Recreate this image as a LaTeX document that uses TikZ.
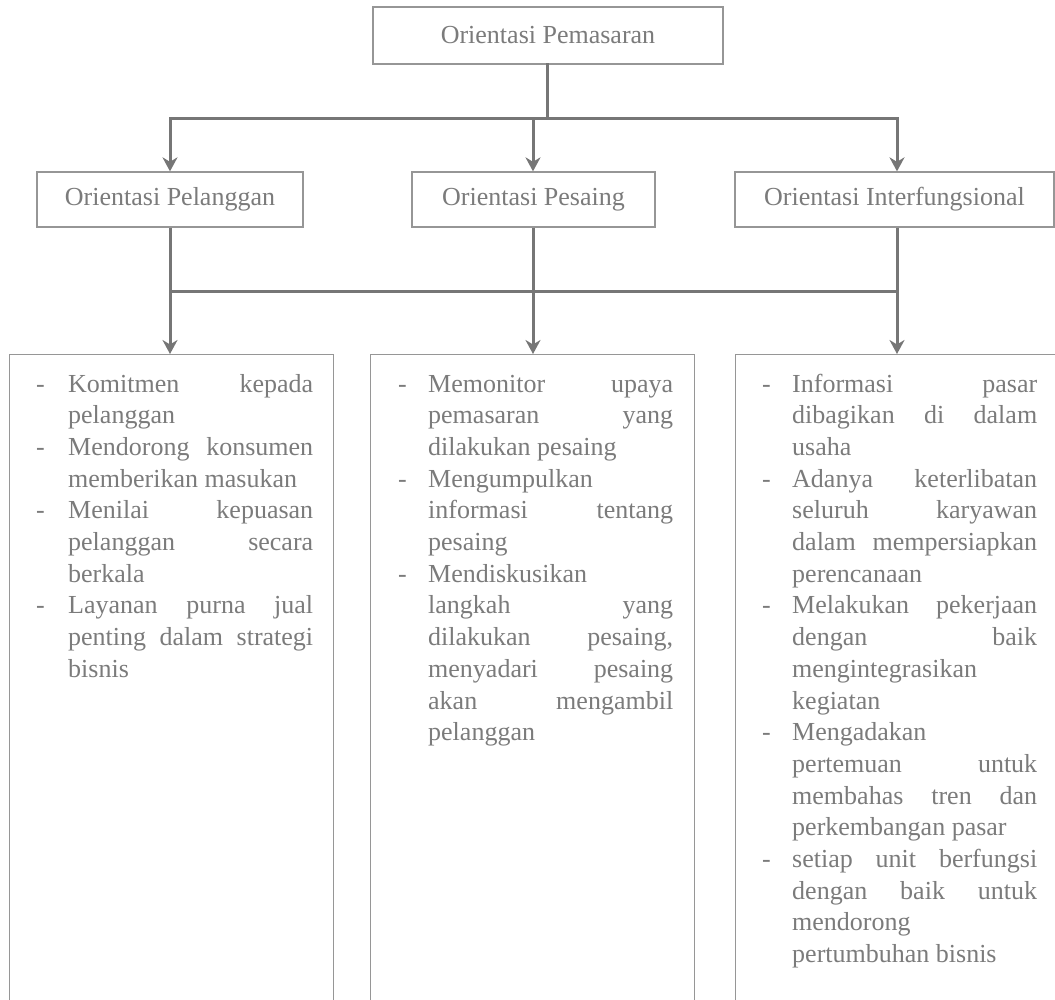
\documentclass[tikz,border=0pt]{standalone}
\usepackage{fontspec}
\setmainfont{Liberation Serif}
\usetikzlibrary{arrows.meta}
\definecolor{txtgray}{HTML}{7B7B7B}
\definecolor{linegray}{HTML}{767676}
\definecolor{boxgray}{HTML}{969696}
\newcounter{lnc}
\newcommand{\jline}[3]{\stepcounter{lnc}\node[itemtxt] (ln\arabic{lnc}) at (#1,{392+31.7*#2}) {\makebox[245pt][s]{#3}};}
\newcommand{\nline}[3]{\stepcounter{lnc}\node[itemtxt] (ln\arabic{lnc}) at (#1,{392+31.7*#2}) {#3};}
\newcommand{\dline}[2]{\stepcounter{lnc}\node[itemtxt] (ln\arabic{lnc}) at (#1,{392+31.7*#2}) {-};}
\tikzset{
  box/.style={draw=boxgray, line width=1.3pt, fill=white, text=txtgray, inner sep=0pt,
    font=\fontsize{26}{30}\selectfont},
  bbox/.style={draw=boxgray, line width=1.3pt, inner sep=0pt},
  conn/.style={draw=linegray, line width=3pt, line cap=rect},
  arrowc/.style={draw=linegray, line width=3pt, -{Stealth[length=14pt,width=15pt,inset=4.5pt]}},
  itemtxt/.style={anchor=base west, inner sep=0pt, text=txtgray, font=\fontsize{26}{30}\selectfont}
}
\begin{document}
\begin{tikzpicture}[x=1pt,y=-1pt]
\useasboundingbox (0,0) rectangle (1055,999);
\begin{scope}
\clip (0,0) rectangle (1055,999);
% top level
\node[box, minimum width=350pt, minimum height=57pt] (top) at (548,35.5) {Orientasi Pemasaran};
% second level
\node[box, minimum width=266pt, minimum height=55pt] (PL) at (170,199.5) {Orientasi Pelanggan};
\node[box, minimum width=243pt, minimum height=55pt] (PS) at (533.5,199.5) {Orientasi Pesaing};
\node[box, minimum width=319pt, minimum height=55pt] (PI) at (894.5,199.5) {Orientasi Interfungsional};
% bottom boxes
\node[bbox, minimum width=324pt, minimum height=680pt, anchor=north west] (LB) at (9,354) {};
\node[bbox, minimum width=324pt, minimum height=680pt, anchor=north west] (MB) at (370,354) {};
\node[bbox, minimum width=340pt, minimum height=680pt, anchor=north west] (RB) at (735,354) {};
\end{scope}
% bus coordinates
\coordinate (busL) at (170,118);
\coordinate (busM) at (533,118);
\coordinate (busR) at (897,118);
\coordinate (lowL) at (170,291);
\coordinate (lowM) at (533,291);
\coordinate (lowR) at (897,291);
% upper connectors
\draw[conn] (top.south -| 547,0) -- (busL -| 547,0);
\draw[conn] (busL) -- (busR);
\draw[arrowc] (busL) -- (busL |- PL.north);
\draw[arrowc] (busM) -- (busM |- PS.north);
\draw[arrowc] (busR) -- (busR |- PI.north);
% lower connectors
\draw[conn] (lowL) -- (lowR);
\draw[arrowc] (lowL |- PL.south) -- (lowL |- LB.north);
\draw[arrowc] (lowM |- PS.south) -- (lowM |- MB.north);
\draw[arrowc] (lowR |- PI.south) -- (lowR |- RB.north);
% left box text
\dline{36}{0}\jline{68}{0}{Komitmen kepada}
\nline{68}{1}{pelanggan}
\dline{36}{2}\jline{68}{2}{Mendorong konsumen}
\nline{68}{3}{memberikan masukan}
\dline{36}{4}\jline{68}{4}{Menilai kepuasan}
\jline{68}{5}{pelanggan secara}
\nline{68}{6}{berkala}
\dline{36}{7}\jline{68}{7}{Layanan purna jual}
\jline{68}{8}{penting dalam strategi}
\nline{68}{9}{bisnis}
% middle box text
\dline{398}{0}\jline{428}{0}{Memonitor upaya}
\jline{428}{1}{pemasaran yang}
\nline{428}{2}{dilakukan pesaing}
\dline{398}{3}\nline{428}{3}{Mengumpulkan}
\jline{428}{4}{informasi tentang}
\nline{428}{5}{pesaing}
\dline{398}{6}\nline{428}{6}{Mendiskusikan}
\jline{428}{7}{langkah yang}
\jline{428}{8}{dilakukan pesaing,}
\jline{428}{9}{menyadari pesaing}
\jline{428}{10}{akan mengambil}
\nline{428}{11}{pelanggan}
% right box text
\dline{762}{0}\jline{792}{0}{Informasi pasar}
\jline{792}{1}{dibagikan di dalam}
\nline{792}{2}{usaha}
\dline{762}{3}\jline{792}{3}{Adanya keterlibatan}
\jline{792}{4}{seluruh karyawan}
\jline{792}{5}{dalam mempersiapkan}
\nline{792}{6}{perencanaan}
\dline{762}{7}\jline{792}{7}{Melakukan pekerjaan}
\jline{792}{8}{dengan baik}
\nline{792}{9}{mengintegrasikan}
\nline{792}{10}{kegiatan}
\dline{762}{11}\nline{792}{11}{Mengadakan}
\jline{792}{12}{pertemuan untuk}
\jline{792}{13}{membahas tren dan}
\nline{792}{14}{perkembangan pasar}
\dline{762}{15}\jline{792}{15}{setiap unit berfungsi}
\jline{792}{16}{dengan baik untuk}
\nline{792}{17}{mendorong}
\nline{792}{18}{pertumbuhan bisnis}
\end{tikzpicture}
\end{document}
